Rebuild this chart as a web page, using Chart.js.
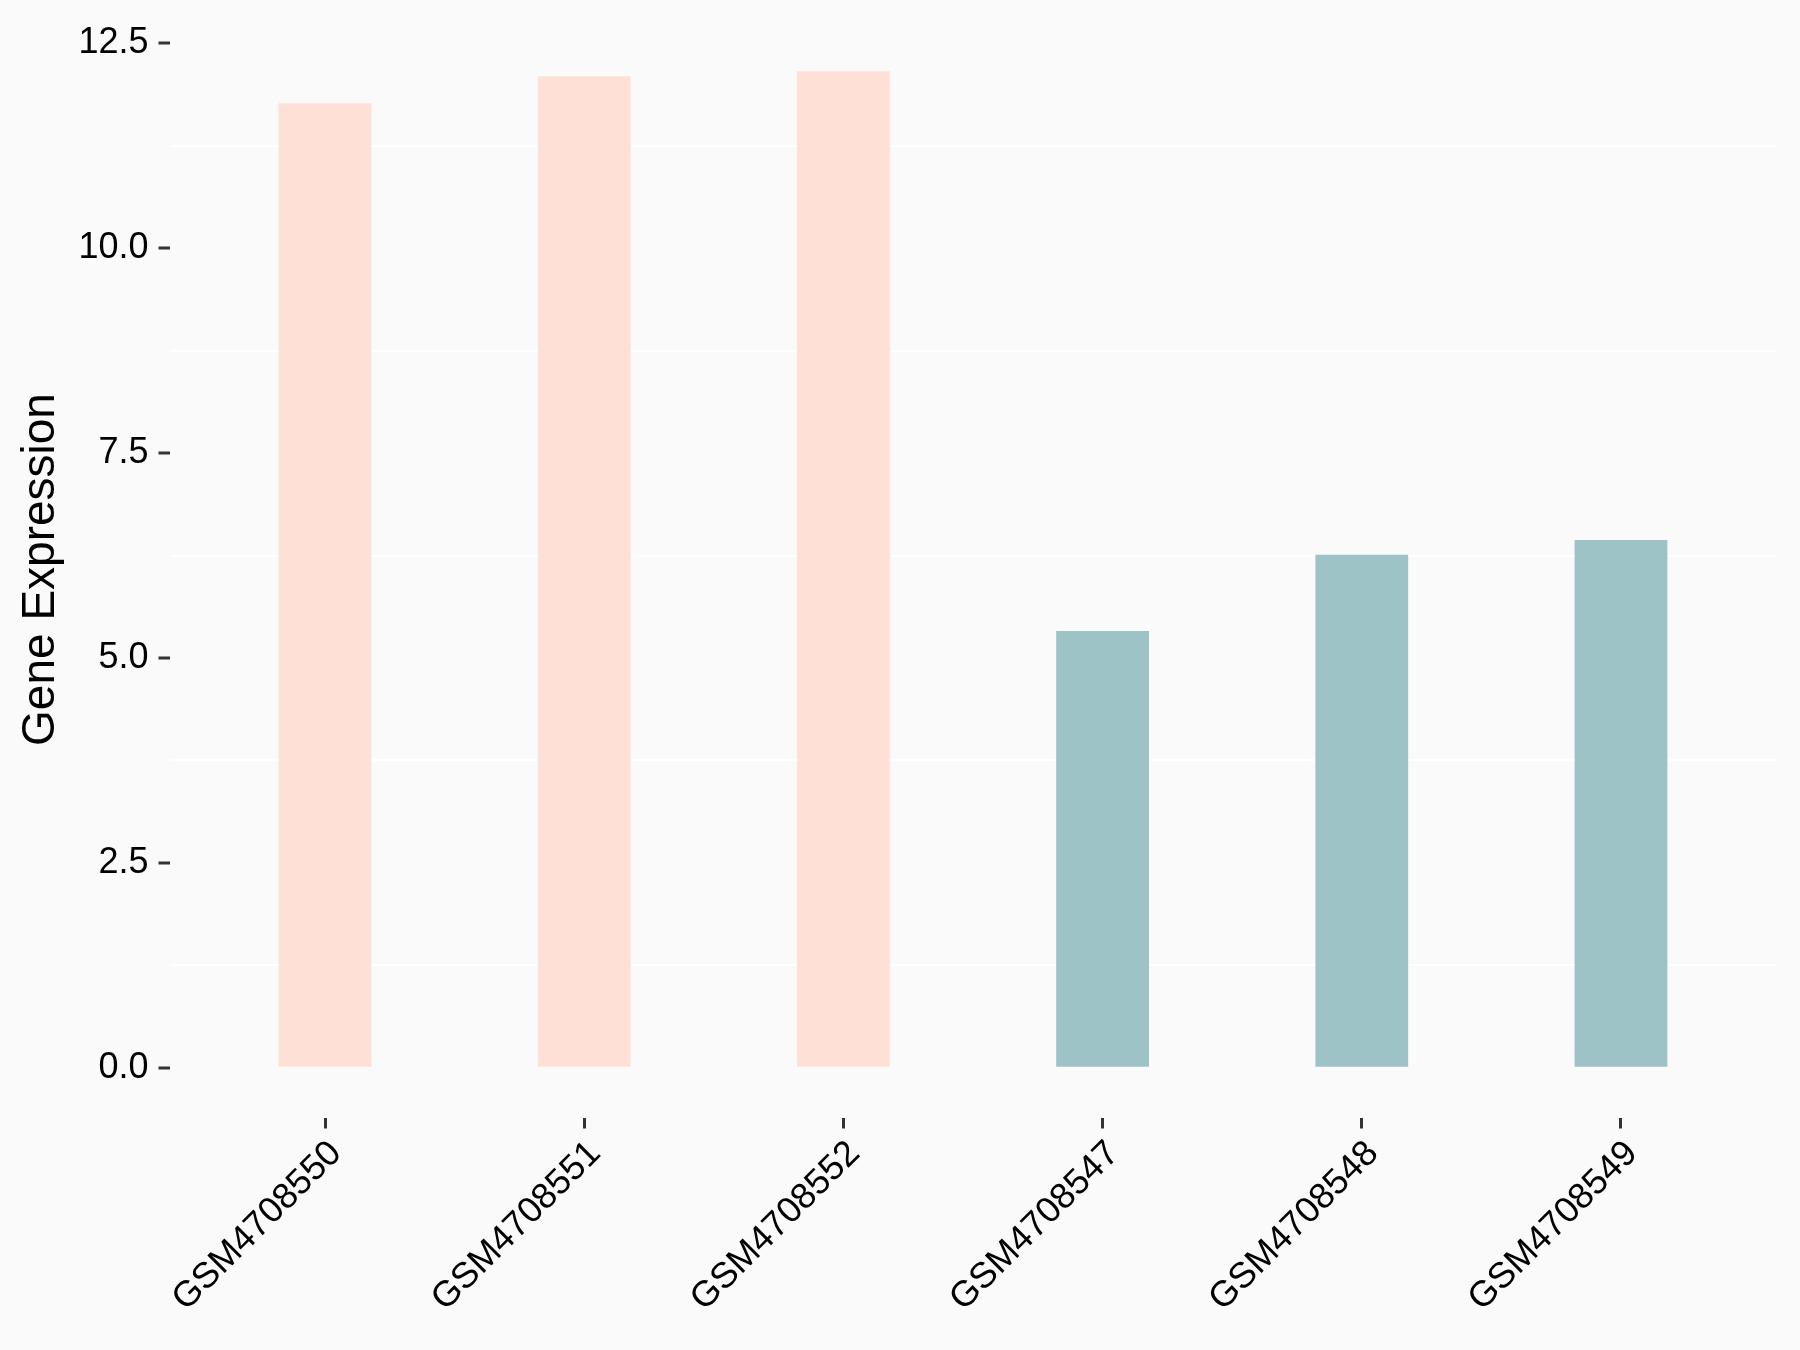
<!DOCTYPE html>
<html>
<head>
<meta charset="utf-8">
<script src="https://cdn.jsdelivr.net/npm/chart.js@4"></script>
<style>
  html, body { margin: 0; padding: 0; background: #fafafa; }
  #wrap { width: 1800px; height: 1350px; }
</style>
</head>
<body>
<div id="wrap"><canvas id="chart1" width="1800" height="1350"></canvas></div>
<script>
// data
const samples = ["GSM4708550", "GSM4708551", "GSM4708552", "GSM4708547", "GSM4708548", "GSM4708549"];
const expression = [11.77, 12.10, 12.16, 5.33, 6.26, 6.44];
const sampleGroup = [0, 0, 0, 1, 1, 1];
const yTickValues = [0, 2.5, 5, 7.5, 10, 12.5];
const yTickLabels = ["0.0", "2.5", "5.0", "7.5", "10.0", "12.5"];

const groupColors = ["#fee0d6", "#9dc3c7"];
const fontFamily = "'Liberation Sans', Arial, sans-serif";

// ggplot style expansion: 5% on continuous, 0.6 on discrete
const yMax = Math.max(...expression) * 1.05;
const yMin = -Math.max(...expression) * 0.05;

// minor gridlines sit halfway between the major ticks
const yAllTicks = [];
yTickValues.forEach(function (v, i) {
  yAllTicks.push(v);
  if (i < yTickValues.length - 1) yAllTicks.push((v + yTickValues[i + 1]) / 2);
});

function isMajor(v) {
  return yTickValues.some(function (t) { return Math.abs(t - v) < 1e-6; });
}

function noPadding(scale) {
  scale.paddingTop = 0;
  scale.paddingBottom = 0;
  scale.paddingLeft = 0;
  scale.paddingRight = 0;
}

const bgPlugin = {
  id: "bg",
  beforeDraw: function (chart) {
    const c = chart.ctx;
    c.save();
    c.fillStyle = "#fafafa";
    c.fillRect(0, 0, chart.width, chart.height);
    c.restore();
  }
};

const chart1 = new Chart(document.getElementById("chart1"), {
  type: "bar",
  data: {
    datasets: [{
      data: expression.map(function (v, i) { return { x: i + 1, y: v }; }),
      backgroundColor: sampleGroup.map(function (g) { return groupColors[g]; }),
      borderWidth: 0,
      barPercentage: 0.358,
      categoryPercentage: 1
    }]
  },
  options: {
    responsive: false,
    animation: false,
    devicePixelRatio: 1,
    layout: { padding: { top: 21.5, right: 23.5, left: 0, bottom: 0 } },
    plugins: { legend: { display: false }, tooltip: { enabled: false } },
    scales: {
      x: {
        type: "linear",
        min: 0.4,
        max: 6.6,
        offset: false,
        afterBuildTicks: function (scale) {
          scale.ticks = samples.map(function (s, i) { return { value: i + 1 }; });
        },
        afterFit: function (scale) {
          scale.height = 232.5;
          noPadding(scale);
        },
        border: { display: false },
        grid: {
          offset: false,
          drawOnChartArea: false,
          drawTicks: true,
          tickLength: 11,
          tickWidth: 3,
          tickColor: "#333333"
        },
        ticks: {
          autoSkip: false,
          minRotation: 45,
          maxRotation: 45,
          padding: 4,
          labelOffset: 11,
          color: "#000000",
          font: { family: fontFamily, size: 36 },
          callback: function (v) { return samples[Math.round(v) - 1]; }
        }
      },
      y: {
        min: yMin,
        max: yMax,
        afterBuildTicks: function (scale) {
          scale.ticks = yAllTicks.map(function (v) { return { value: v }; });
        },
        afterFit: function (scale) {
          scale.width = 169.5;
          noPadding(scale);
        },
        border: { display: false },
        grid: {
          lineWidth: 2,
          color: function (ctx) {
            return ctx.tick && !isMajor(ctx.tick.value) ? "#ffffff" : "rgba(0,0,0,0)";
          },
          tickLength: 11,
          tickWidth: 3,
          tickColor: function (ctx) {
            return ctx.tick && isMajor(ctx.tick.value) ? "#333333" : "rgba(0,0,0,0)";
          }
        },
        ticks: {
          padding: 10,
          color: "#000000",
          font: { family: fontFamily, size: 36 },
          callback: function (v) {
            const i = yTickValues.findIndex(function (t) { return Math.abs(t - v) < 1e-6; });
            return i >= 0 ? yTickLabels[i] : "";
          }
        },
        title: {
          display: true,
          text: "Gene Expression",
          color: "#000000",
          padding: { top: 14, bottom: 0 },
          font: { family: fontFamily, size: 46 }
        }
      }
    }
  },
  plugins: [bgPlugin]
});
</script>
</body>
</html>
